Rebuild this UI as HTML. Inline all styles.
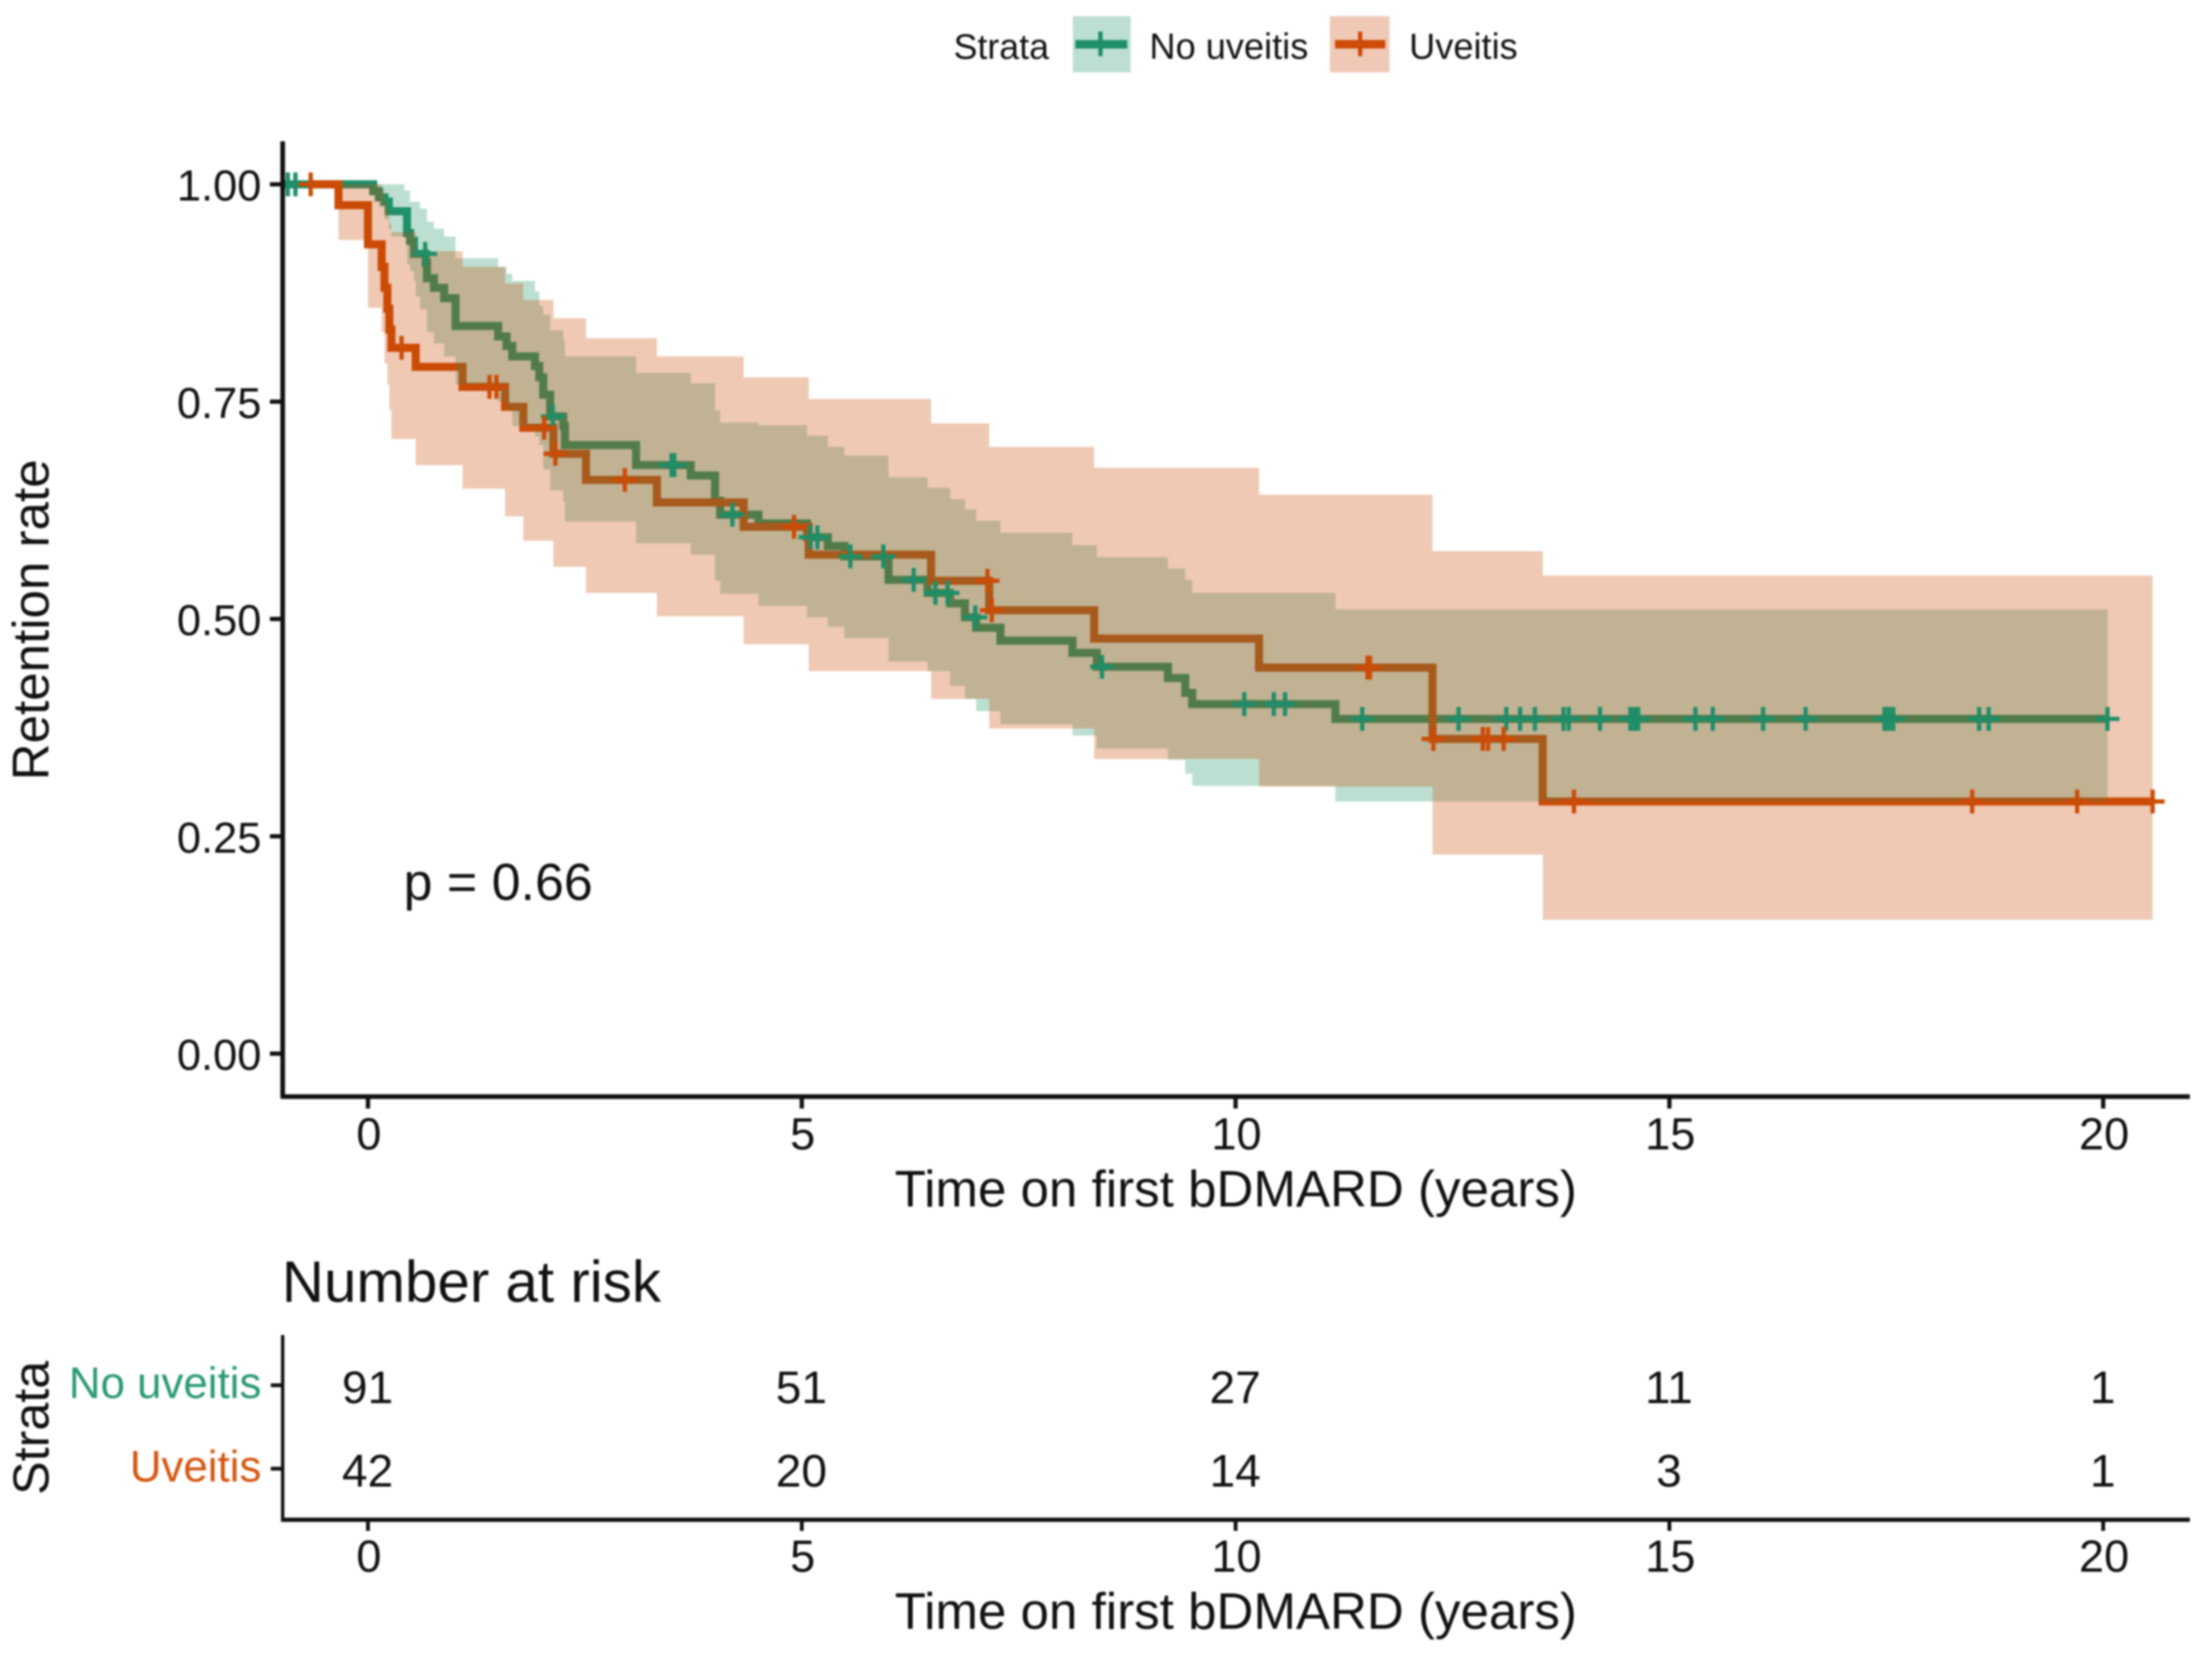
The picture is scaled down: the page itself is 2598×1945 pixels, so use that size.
<!DOCTYPE html>
<html lang="en">
<head>
<meta charset="utf-8">
<title>Retention on first bDMARD</title>
<style>
html,body{margin:0;padding:0;background:#fff;}
svg{display:block;filter:blur(1px);}
text{font-family:"Liberation Sans",sans-serif;fill:#111;}
</style>
</head>
<body>
<svg id="chart" xmlns="http://www.w3.org/2000/svg" width="2598" height="1945" viewBox="0 0 2598 1945">
  <rect x="0" y="0" width="2598" height="1945" fill="#fff"/>
  <g id="km-plot"></g>
  <g id="risk-table"></g>
  <g>
    <text x="1120" y="69" font-size="42">Strata</text>
    <g>
      <rect x="1260" y="19" width="68" height="66" fill="#bddfd2"/>
      <rect x="1263" y="47" width="61" height="10" fill="#1e8e68"/>
      <rect x="1290" y="37" width="5" height="29" fill="#1e8e68"/>
      <text x="1350" y="69" font-size="42.5">No uveitis</text>
    </g>
    <g>
      <rect x="1562" y="19" width="70" height="66" fill="#efc9b5"/>
      <rect x="1568" y="47" width="59" height="10" fill="#cc4b06"/>
      <rect x="1595" y="37" width="5" height="29" fill="#cc4b06"/>
      <text x="1655" y="69" font-size="42.5">Uveitis</text>
    </g>
  </g>
</svg>
<script>
// ---- Kaplan-Meier data ----
const noUveitisTime  = [-0.96,0.06,0.125,0.19,0.24,0.27,0.42,0.45,0.485,0.53,0.55,0.6,0.665,0.68,0.76,0.878,1.009,1.5,1.597,1.663,1.925,1.974,2.02,2.1,2.25,2.27,3.09,3.72,4.0,4.06,4.5,5.06,5.3,5.49,6.0,6.45,6.71,6.88,7.01,7.29,8.12,8.4,9.22,9.42,9.5,11.15];
const noUveitisSurv  = [1,0.992,0.985,0.98,0.969,0.969,0.969,0.944,0.935,0.92,0.92,0.92,0.91,0.892,0.881,0.869,0.837,0.825,0.814,0.802,0.791,0.778,0.758,0.733,0.722,0.70,0.677,0.665,0.636,0.62,0.61,0.594,0.584,0.572,0.545,0.53,0.518,0.502,0.49,0.475,0.461,0.445,0.432,0.415,0.402,0.385];
const noUveitisUpper = [1,1,1,1,1,1,0.993,0.993,0.98,0.98,0.98,0.972,0.972,0.957,0.949,0.94,0.915,0.905,0.897,0.889,0.877,0.86,0.85,0.832,0.82,0.802,0.783,0.771,0.74,0.726,0.723,0.711,0.698,0.688,0.663,0.651,0.638,0.626,0.613,0.599,0.585,0.571,0.558,0.545,0.53,0.511];
const noUveitisLower = [1,0.988,0.974,0.96,0.949,0.94,0.94,0.908,0.90,0.889,0.871,0.856,0.856,0.83,0.817,0.802,0.77,0.75,0.74,0.722,0.71,0.70,0.672,0.648,0.635,0.612,0.587,0.574,0.544,0.529,0.515,0.502,0.491,0.478,0.451,0.44,0.423,0.408,0.394,0.379,0.366,0.351,0.338,0.322,0.308,0.29];
const noUveitisEnd = 20.05;
const noUveitisCensor = [-0.924,-0.836,0.659,2.13,3.5,3.53,4.2,5.1,5.18,5.56,5.94,6.29,6.54,6.68,7.0,8.46,10.1,10.44,10.57,11.46,12.57,13.12,13.28,13.45,13.78,13.84,14.2,14.55,14.6,14.64,15.3,15.5,16.08,16.57,17.48,17.53,17.58,18.57,18.68,20.05];

const uveitisTime  = [-0.66,-0.34,0,0.158,0.19,0.223,0.246,0.27,0.55,1.09,1.58,1.79,2.137,2.513,3.33,4.33,5.08,6.49,7.16,8.37,10.27,12.27,13.54];
const uveitisSurv  = [1,0.976,0.931,0.905,0.881,0.857,0.833,0.812,0.79,0.767,0.744,0.72,0.69,0.66,0.634,0.606,0.574,0.544,0.51,0.4775,0.444,0.362,0.29];
const uveitisUpper = [1,1,1,0.995,0.98,0.97,0.955,0.945,0.923,0.905,0.886,0.867,0.846,0.823,0.802,0.778,0.753,0.725,0.698,0.674,0.643,0.578,0.55];
const uveitisLower = [1,0.936,0.858,0.83,0.794,0.77,0.74,0.707,0.677,0.65,0.618,0.59,0.56,0.53,0.503,0.471,0.44,0.408,0.374,0.339,0.307,0.229,0.154];
const uveitisEnd = 20.57;
const uveitisCensor = [-0.66,0.387,1.4,1.48,2.03,2.16,2.96,4.91,7.14,7.19,11.52,11.55,12.28,12.85,12.91,13.09,13.9,18.49,19.7,20.57];

const xTickValues = [0,5,10,15,20];
const yTickValues = [0,0.25,0.5,0.75,1];
const yTickLabels = ["0.00","0.25","0.50","0.75","1.00"];
const riskStrata = ["No uveitis","Uveitis"];
const riskNoUveitis = [91,51,27,11,1];
const riskUveitis = [42,20,14,3,1];

// ---- scales ----
function xScale(t){ return 432.2 + 101.9 * t; }
function yScale(s){ return 1237.5 - 1021 * s; }

const NS = "http://www.w3.org/2000/svg";
const GREEN = "#1e8e68", ORANGE = "#cc4b06", INK = "#111";
const plot = document.getElementById("km-plot");
const risk = document.getElementById("risk-table");

function make(tag, attrs, parent, content){
  const el = document.createElementNS(NS, tag);
  for (const k in attrs) el.setAttribute(k, attrs[k]);
  if (content !== undefined) el.textContent = content;
  parent.appendChild(el);
  return el;
}
function stepLine(time, val, end){
  let d = "M" + xScale(time[0]) + " " + yScale(val[0]);
  for (let i = 1; i < time.length; i++){
    d += "H" + xScale(time[i]) + "V" + yScale(val[i]);
  }
  return d + "H" + xScale(end);
}
function ribbon(time, up, low, end){
  let d = "M" + xScale(time[0]) + " " + yScale(up[0]);
  for (let i = 1; i < time.length; i++){
    d += "H" + xScale(time[i]) + "V" + yScale(up[i]);
  }
  d += "H" + xScale(end) + "V" + yScale(low[low.length - 1]);
  for (let i = time.length - 1; i > 0; i--){
    d += "H" + xScale(time[i]) + "V" + yScale(low[i - 1]);
  }
  return d + "H" + xScale(time[0]) + "Z";
}
function survAt(time, val, t){
  let s = val[0];
  for (let i = 0; i < time.length; i++){ if (time[i] <= t) s = val[i]; }
  return s;
}
function drawLine(time, val, end, color, name){
  const el = make("path", {d: stepLine(time, val, end), fill: "none", stroke: color, "stroke-width": 9.5, "stroke-linejoin": "miter"}, plot);
  
  
}
function drawRibbon(time, up, low, end, color, name){
  const el = make("path", {d: ribbon(time, up, low, end), fill: color, "fill-opacity": 0.3, stroke: "none"}, plot);
  
  
}
function drawCensors(list, time, val, color, name){
  list.forEach(function(t){
    const cx = xScale(t), cy = yScale(survAt(time, val, t));
    const el = make("path", {d: "M" + (cx - 14) + " " + cy + "H" + (cx + 14) + "M" + cx + " " + (cy - 14) + "V" + (cy + 14), fill: "none", stroke: color, "stroke-width": 5}, plot);
    
    
  });
}

// Lines sit under the translucent ribbons, censor marks on top
drawLine(noUveitisTime, noUveitisSurv, noUveitisEnd, GREEN, "line-no-uveitis");
drawLine(uveitisTime, uveitisSurv, uveitisEnd, ORANGE, "line-uveitis");
drawRibbon(noUveitisTime, noUveitisUpper, noUveitisLower, noUveitisEnd, "#239469", "ci-ribbon-no-uveitis");
drawRibbon(uveitisTime, uveitisUpper, uveitisLower, uveitisEnd, "#ca4b08", "ci-ribbon-uveitis");
drawCensors(noUveitisCensor, noUveitisTime, noUveitisSurv, GREEN, "censor-no-uveitis");
drawCensors(uveitisCensor, uveitisTime, uveitisSurv, ORANGE, "censor-uveitis");

// ---- main axes ----
const yAxisEl = make("path", {d: "M332 166V1288", stroke: INK, "stroke-width": 5.5, fill: "none"}, plot);


const xAxisEl = make("path", {d: "M329.5 1288H2572", stroke: INK, "stroke-width": 5.5, fill: "none"}, plot);



yTickValues.forEach(function(v, i){
  const tick = make("path", {d: "M317 " + yScale(v) + "H332", stroke: INK, "stroke-width": 5}, plot);
  
  
  const lab = make("text", {x: 307, y: yScale(v) + 19, "text-anchor": "end", "font-size": 51}, plot, yTickLabels[i]);
  
  
});
xTickValues.forEach(function(v){
  const tick = make("path", {d: "M" + xScale(v) + " 1288V1302", stroke: INK, "stroke-width": 5}, plot);
  
  
  const lab = make("text", {x: xScale(v) + 1, y: 1350, "text-anchor": "middle", "font-size": 53}, plot, String(v));
  
  
});
const xTitle = make("text", {x: 1451.5, y: 1417, "text-anchor": "middle", "font-size": 60}, plot, "Time on first bDMARD (years)");


const yTitle = make("text", {x: 0, y: 0, "text-anchor": "middle", "font-size": 60, transform: "translate(57 728) rotate(-90)"}, plot, "Retention rate");


const pLabel = make("text", {x: 474, y: 1057, "font-size": 61}, plot, "p = 0.66");



// ---- risk table ----
const RISK_TOP = 1568, RISK_BOTTOM = 1785;
const rowY = [1627, 1725];
const riskRows = [riskNoUveitis, riskUveitis];
const riskColors = ["#2a9a72", "#d4560f"];

const riskTitle = make("text", {x: 331, y: 1529, "font-size": 68.5}, risk, "Number at risk");


const riskY = make("path", {d: "M332 " + RISK_TOP + "V" + RISK_BOTTOM, stroke: INK, "stroke-width": 4, fill: "none"}, risk);


const riskX = make("path", {d: "M330 " + RISK_BOTTOM + "H2572", stroke: INK, "stroke-width": 5, fill: "none"}, risk);



riskStrata.forEach(function(name, r){
  const tick = make("path", {d: "M318 " + rowY[r] + "H332", stroke: INK, "stroke-width": 4.5}, risk);
  
  
  const lab = make("text", {x: 307, y: rowY[r] + 15, "text-anchor": "end", "font-size": 51.5}, risk, name);
  lab.style.fill = riskColors[r];
  
  
  riskRows[r].forEach(function(n, i){
    const cell = make("text", {x: xScale(xTickValues[i]) - 0.5, y: rowY[r] + 21, "text-anchor": "middle", "font-size": 54}, risk, String(n));
    
    
  });
});
xTickValues.forEach(function(v){
  const tick = make("path", {d: "M" + xScale(v) + " 1785V1798", stroke: INK, "stroke-width": 4.5}, risk);
  
  
  const lab = make("text", {x: xScale(v) + 1, y: 1846, "text-anchor": "middle", "font-size": 53}, risk, String(v));
  
  
});
const riskXTitle = make("text", {x: 1451.5, y: 1913, "text-anchor": "middle", "font-size": 60}, risk, "Time on first bDMARD (years)");


const riskYTitle = make("text", {x: 0, y: 0, "text-anchor": "middle", "font-size": 59, transform: "translate(57 1677) rotate(-90)"}, risk, "Strata");


</script>
</body>
</html>
